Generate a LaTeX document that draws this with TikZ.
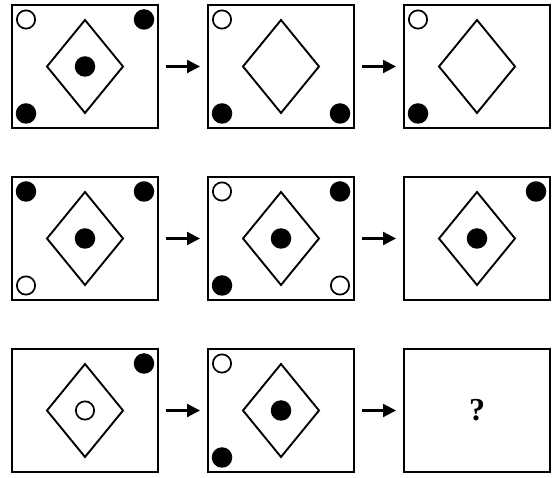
\documentclass[tikz,border=0pt]{standalone}
\usepackage{fontspec}
\newfontfamily\qfont{Liberation Serif}
\usepackage{tikz}
\usetikzlibrary{arrows.meta, positioning, shapes.geometric}

\begin{document}
\begin{tikzpicture}[x=1pt, y=1pt,
    panel/.style={rectangle, draw, line width=2.4pt, minimum width=146pt,
                  minimum height=123pt, inner sep=0pt, outer sep=0pt},
    rhomb/.style={diamond, draw, line width=1.9pt, minimum width=76pt,
                  minimum height=93pt, inner sep=0pt, outer sep=0pt},
    fdot/.style={circle, fill=black, minimum size=20.5pt, inner sep=0pt},
    odot/.style={circle, draw, line width=1.7pt, fill=white, minimum size=18.3pt, inner sep=0pt},
    arrow/.style={-{Triangle[length=13pt, width=13pt]}, line width=2.2pt,
                  shorten <=8pt, shorten >=8pt}
]
\useasboundingbox (0,0) rectangle (553,478);
\node (b11) [panel] at (85,411.5) {};
\node (b12) [panel, right=50pt of b11] {};
\node (b13) [panel, right=50pt of b12] {};
\node (b21) [panel, below=49pt of b11] {};
\node (b22) [panel, right=50pt of b21] {};
\node (b23) [panel, right=50pt of b22] {};
\node (b31) [panel, below=49pt of b21] {};
\node (b32) [panel, right=50pt of b31] {};
\node (b33) [panel, right=50pt of b32] {};
\foreach \p in {11,12,13,21,22,23,31,32}
    \node (r\p) [rhomb] at (b\p) {};
\node (c11) [fdot] at (b11) {};
\node (c21) [fdot] at (b21) {};
\node (c22) [fdot] at (b22) {};
\node (c23) [fdot] at (b23) {};
\node (c31) [odot] at (b31) {};
\node (c32) [fdot] at (b32) {};
\node (d11a) [odot] at ([shift={(-59,47)}]b11.center) {};
\node (d11b) [fdot] at ([shift={(59,47)}]b11.center) {};
\node (d11c) [fdot] at ([shift={(-59,-47)}]b11.center) {};
\node (d12a) [odot] at ([shift={(-59,47)}]b12.center) {};
\node (d12c) [fdot] at ([shift={(-59,-47)}]b12.center) {};
\node (d12d) [fdot] at ([shift={(59,-47)}]b12.center) {};
\node (d13a) [odot] at ([shift={(-59,47)}]b13.center) {};
\node (d13c) [fdot] at ([shift={(-59,-47)}]b13.center) {};
\node (d21a) [fdot] at ([shift={(-59,47)}]b21.center) {};
\node (d21b) [fdot] at ([shift={(59,47)}]b21.center) {};
\node (d21c) [odot] at ([shift={(-59,-47)}]b21.center) {};
\node (d22a) [odot] at ([shift={(-59,47)}]b22.center) {};
\node (d22b) [fdot] at ([shift={(59,47)}]b22.center) {};
\node (d22c) [fdot] at ([shift={(-59,-47)}]b22.center) {};
\node (d22d) [odot] at ([shift={(59,-47)}]b22.center) {};
\node (d23b) [fdot] at ([shift={(59,47)}]b23.center) {};
\node (d31b) [fdot] at ([shift={(59,47)}]b31.center) {};
\node (d32a) [odot] at ([shift={(-59,47)}]b32.center) {};
\node (d32c) [fdot] at ([shift={(-59,-47)}]b32.center) {};
\node (q) at (b33) {\qfont\bfseries\fontsize{32}{32}\selectfont ?};
\draw [arrow] (b11) -- (b12);
\draw [arrow] (b12) -- (b13);
\draw [arrow] (b21) -- (b22);
\draw [arrow] (b22) -- (b23);
\draw [arrow] (b31) -- (b32);
\draw [arrow] (b32) -- (b33);
\end{tikzpicture}
\end{document}
